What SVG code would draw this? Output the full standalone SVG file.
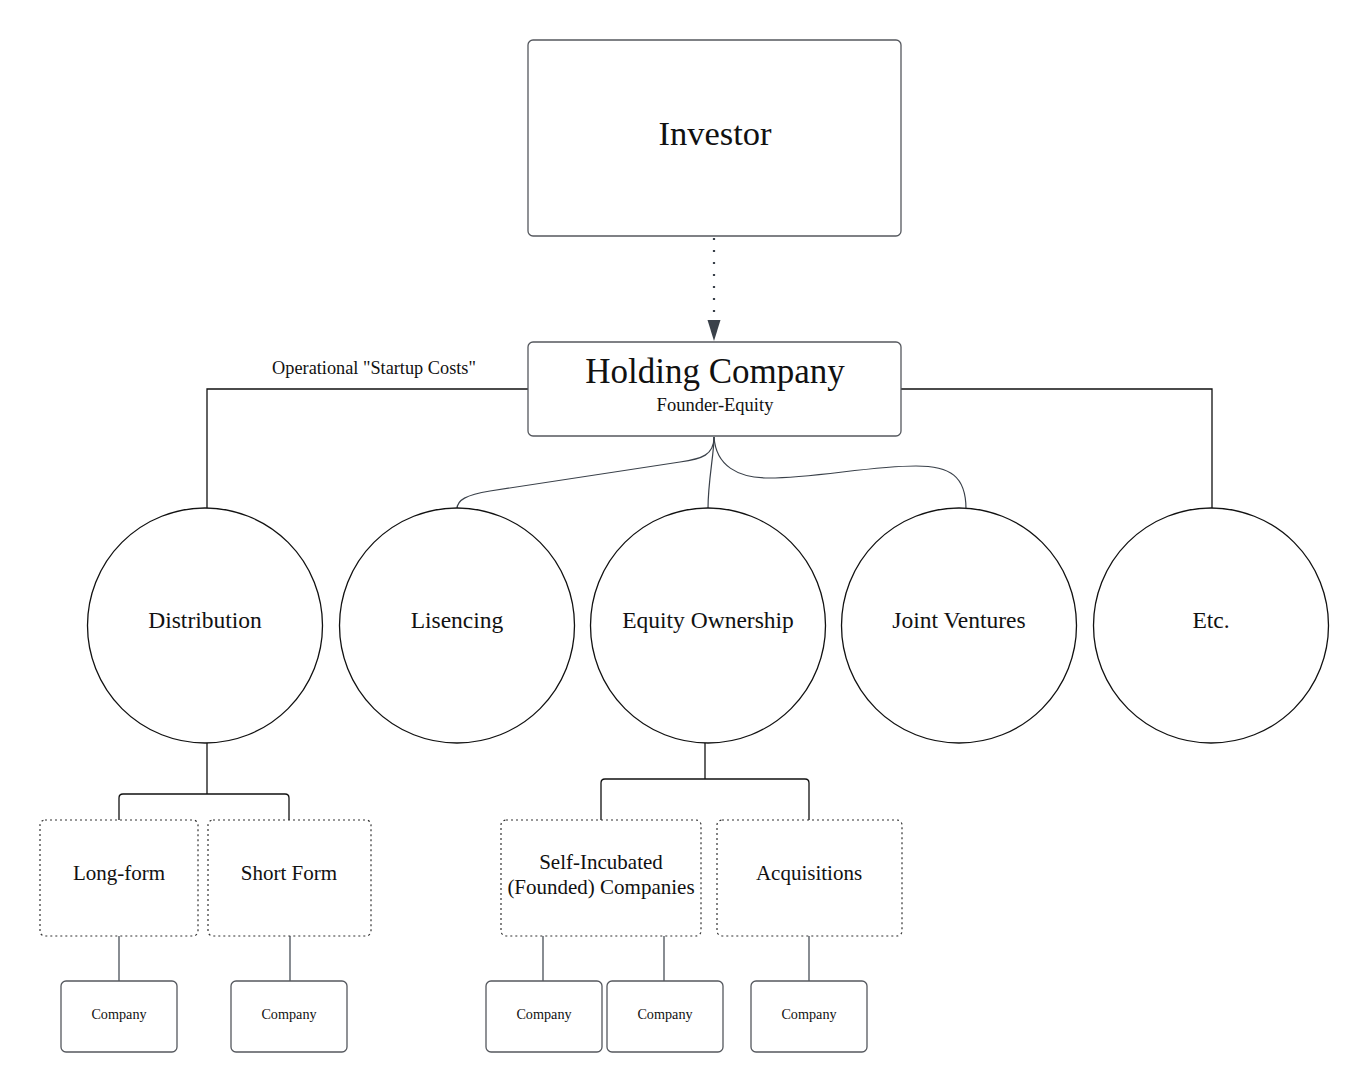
<svg xmlns="http://www.w3.org/2000/svg" width="1369" height="1092" viewBox="0 0 1369 1092">
<style>
text{font-family:"Liberation Serif","DejaVu Serif",serif;fill:#111;text-anchor:middle}
.box{fill:#fff;stroke:#55585e;stroke-width:1.3}
.dot{fill:#fff;stroke:#333;stroke-width:1.2;stroke-dasharray:2 3}
.circ{fill:#fff;stroke:#111;stroke-width:1.3}
.ln{fill:none;stroke:#111;stroke-width:1.3}
.cv{fill:none;stroke:#3a414a;stroke-width:1.2}
.t1{font-size:34.5px}
.t2{font-size:23.5px}
.t3{font-size:21px}
.t4{font-size:14.2px}
.t5{font-size:18.3px}
</style>
<rect width="1369" height="1092" fill="#fff"/>
<g id="connectors">
<line x1="714" y1="238" x2="714" y2="320" stroke="#3a414a" stroke-width="2.2" stroke-dasharray="2 10"/>
<path d="M707.5,320 L720.5,320 L714,341 Z" fill="#3a414a"/>
<path class="ln" d="M528,389 H207 V508"/>
<path class="ln" d="M901,389 H1212 V508"/>
<path class="cv" d="M714,437 C714,455 702,459 680,462 L490,491 C466,495 457,500 457,509"/>
<path class="cv" d="M714,437 C714,455 708,480 708,509"/>
<path class="cv" d="M714,437 C716,466 738,478 769,478 C815,478 870,466 916,466 C950,466 966,476 966,509"/>
<path class="ln" d="M207,743 V794"/>
<path class="ln" d="M119,820 V798 Q119,794 123,794 H285 Q289,794 289,798 V820"/>
<path class="ln" d="M705,743 V779"/>
<path class="ln" d="M601,820 V783 Q601,779 605,779 H805 Q809,779 809,783 V820"/>
<path class="cv" d="M119,936 V981"/>
<path class="cv" d="M290,936 V981"/>
<path class="cv" d="M543,936 V981"/>
<path class="cv" d="M664,936 V981"/>
<path class="cv" d="M809,936 V981"/>
</g>
<text class="t5" x="374" y="374">Operational "Startup Costs"</text>
<g id="investor">
<rect class="box" x="528" y="40" width="373" height="196" rx="5"/>
<text class="t1" x="715" y="145">Investor</text>
</g>
<g id="holding">
<rect class="box" x="528" y="342" width="373" height="94" rx="5"/>
<text x="715" y="383" style="font-size:35px">Holding Company</text>
<text x="715" y="411" style="font-size:18.5px">Founder-Equity</text>
</g>
<g id="distribution">
<circle class="circ" cx="205" cy="625.5" r="117.5"/>
<text class="t2" x="205" y="628">Distribution</text>
</g>
<g id="lisencing">
<circle class="circ" cx="457" cy="625.5" r="117.5"/>
<text class="t2" x="457" y="628">Lisencing</text>
</g>
<g id="equity">
<circle class="circ" cx="708" cy="625.5" r="117.5"/>
<text class="t2" x="708" y="628">Equity Ownership</text>
</g>
<g id="joint">
<circle class="circ" cx="959" cy="625.5" r="117.5"/>
<text class="t2" x="959" y="628">Joint Ventures</text>
</g>
<g id="etc">
<circle class="circ" cx="1211" cy="625.5" r="117.5"/>
<text class="t2" x="1211" y="628">Etc.</text>
</g>
<g id="longform">
<rect class="dot" x="40" y="820" width="158" height="116" rx="5"/>
<text class="t3" x="119" y="880">Long-form</text>
</g>
<g id="shortform">
<rect class="dot" x="208" y="820" width="163" height="116" rx="5"/>
<text class="t3" x="289" y="880">Short Form</text>
</g>
<g id="selfinc">
<rect class="dot" x="501" y="820" width="200" height="116" rx="5"/>
<text class="t3" x="601" y="869">Self-Incubated</text>
<text class="t3" x="601" y="894">(Founded) Companies</text>
</g>
<g id="acq">
<rect class="dot" x="717" y="820" width="185" height="116" rx="5"/>
<text class="t3" x="809" y="880">Acquisitions</text>
</g>
<g id="c1"><rect class="box" x="61" y="981" width="116" height="71" rx="5"/><text class="t4" x="119" y="1019">Company</text></g>
<g id="c2"><rect class="box" x="231" y="981" width="116" height="71" rx="5"/><text class="t4" x="289" y="1019">Company</text></g>
<g id="c3"><rect class="box" x="486" y="981" width="116" height="71" rx="5"/><text class="t4" x="544" y="1019">Company</text></g>
<g id="c4"><rect class="box" x="607" y="981" width="116" height="71" rx="5"/><text class="t4" x="665" y="1019">Company</text></g>
<g id="c5"><rect class="box" x="751" y="981" width="116" height="71" rx="5"/><text class="t4" x="809" y="1019">Company</text></g>
</svg>
